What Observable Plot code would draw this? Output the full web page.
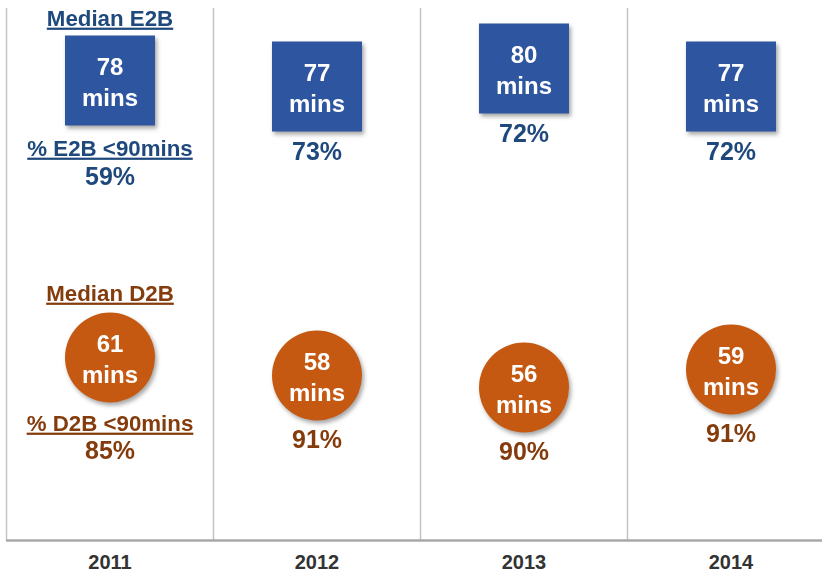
<!DOCTYPE html>
<html><head><meta charset="utf-8">
<script src="https://cdn.jsdelivr.net/npm/d3@7"></script>
<script src="https://cdn.jsdelivr.net/npm/@observablehq/plot@0.6"></script>
<style>
body{margin:0;background:#fff}
#wrap{position:relative;width:822px;height:573px;overflow:hidden}
#wrap svg{position:absolute;left:0;top:0}
</style></head><body><div id="wrap"></div>
<script>
const years = ["2011", "2012", "2013", "2014"];
const e2bMedian = [78, 77, 80, 77];
const e2bPct = [59, 73, 72, 72];
const d2bMedian = [61, 58, 56, 59];
const d2bPct = [85, 91, 90, 91];
const e2bTitle = "Median E2B";
const e2bPctLabel = "% E2B <90mins";
const d2bTitle = "Median D2B";
const d2bPctLabel = "% D2B <90mins";
const unit = "mins";

const W = 822, H = 573;
const font = "Liberation Sans, Arial, Helvetica, sans-serif";
const xRange = [6, 834];
const bw = (xRange[1] - xRange[0]) / years.length;
const xOpt = {type: "band", domain: years, range: xRange, padding: 0};

const e2b = years.map((y, i) => ({year: y, median: e2bMedian[i], pct: e2bPct[i]}));
const d2b = years.map((y, i) => ({year: y, median: d2bMedian[i], pct: d2bPct[i]}));

const BLUE = "#2D55A0", NAVY = "#1F497D", ORANGE = "#C65911", BROWN = "#843C0C";

const basePlot = Plot.plot({
  width: W, height: H,
  marginTop: 8, marginBottom: 33, marginLeft: 6, marginRight: 0,
  style: {fontFamily: font, fontSize: "20px", fontWeight: "bold", color: "#333", background: "white"},
  x: {...xOpt, axis: "bottom", tickSize: 0, tickPadding: 14, label: null},
  y: {domain: [0, 1], axis: null},
  marks: [
    Plot.ruleX(years, {x: d => d, dx: -bw / 2, stroke: "#c4c4c4", strokeWidth: 1.5}),
    Plot.ruleY([0], {stroke: "#a8a8a8", strokeWidth: 2.5})
  ]
});

function panel(data, yDomain, yRange, shape, fillShape, textColor, title, pctLabel, o) {
  const first = data.slice(0, 1), rest = data.slice(1);
  const common = {x: "year", y: "median", fontFamily: font, fontWeight: "bold"};
  return Plot.plot({
    width: W, height: H,
    margin: 0,
    style: {background: "transparent", fontFamily: font},
    x: {...xOpt, axis: null},
    y: {domain: yDomain, range: yRange, axis: null},
    marks: [
      Plot.dot(data, {x: "year", y: "median", symbol: shape, r: shape === "square" ? 50.8 : 45, fill: fillShape, stroke: "none"}),
      Plot.text(data, {...common, text: d => `${d.median}\n${unit}`, fill: "white", fontSize: 24, lineHeight: 1.3}),
      Plot.text(first, {...common, text: () => title, fill: textColor, fontSize: 22.3, dy: o.title}),
      Plot.text(first, {...common, text: () => pctLabel, fill: textColor, fontSize: 22.3, dy: o.label}),
      Plot.text(first, {...common, text: d => `${d.pct}%`, fill: textColor, fontSize: 25, dy: o.firstPct}),
      Plot.text(rest, {...common, text: d => `${d.pct}%`, fill: textColor, fontSize: 25, dy: o.pct})
    ]
  });
}

const e2bPlot = panel(e2b, [77, 80], [86, 68], "square", BLUE, NAVY, e2bTitle, e2bPctLabel,
  {title: -62, label: 68, firstPct: 96, pct: 65});
const d2bPlot = panel(d2b, [56, 61], [387, 357], "circle", ORANGE, BROWN, d2bTitle, d2bPctLabel,
  {title: -64, label: 66, firstPct: 93, pct: 64});

const wrap = document.getElementById("wrap");
wrap.appendChild(basePlot);
wrap.appendChild(e2bPlot);
wrap.appendChild(d2bPlot);

const underlined = new Set([e2bTitle, e2bPctLabel, d2bTitle, d2bPctLabel]);
d3.selectAll("#wrap text")
  .filter(function () { return underlined.has(this.textContent); })
  .style("text-decoration", "underline")
  .style("text-decoration-thickness", "2px")
  .style("text-underline-offset", "3px");
d3.selectAll("#wrap g[aria-label=dot]")
  .style("filter", "drop-shadow(2px 3px 2px rgba(0,0,0,0.35))");
</script>
</body></html>
